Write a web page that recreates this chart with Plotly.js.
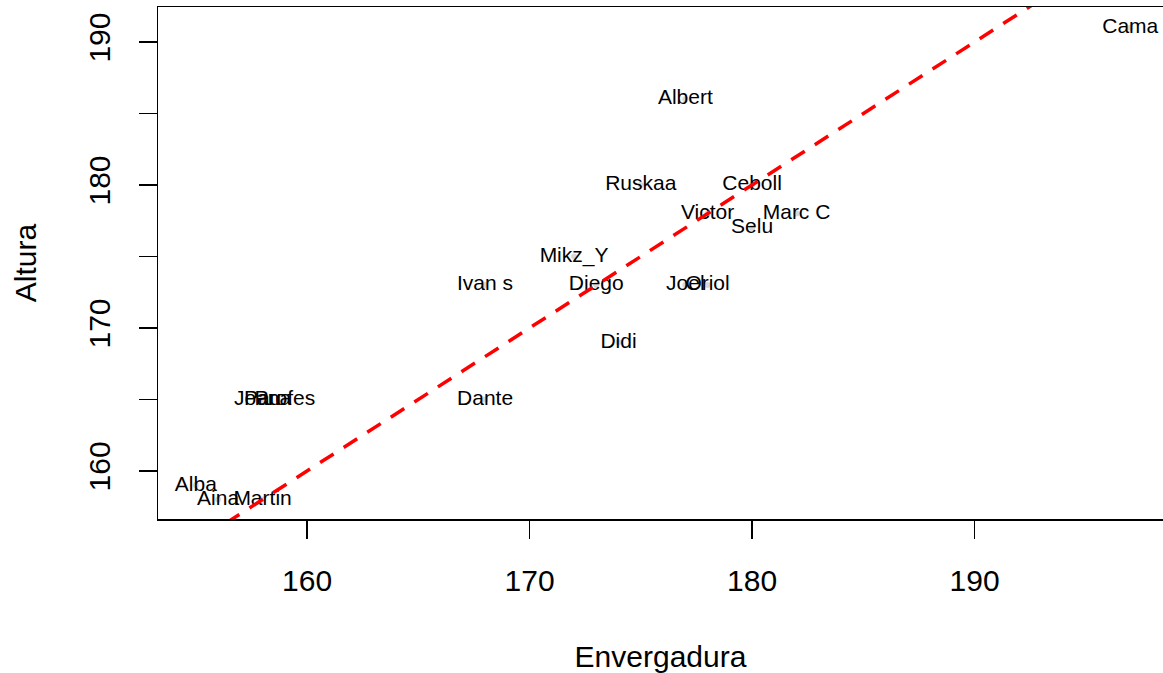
<!DOCTYPE html>
<html><head><meta charset="utf-8">
<script src="https://cdn.plot.ly/plotly-3.0.1.min.js"></script>
<style>html,body{margin:0;padding:0;background:#fff;}#chart{width:1163px;height:673px;}</style>
</head><body><div id="chart"></div>
<script>
const names = ["Alba","Aina","Martin","Joana","Pau","Profes","Dante","Ivan s","Mikz_Y","Diego","Didi","Ruskaa","Albert","Joel","Oriol","Ceboll","Victor","Selu","Marc C","Cama"];
const envergadura = [155,156,158,158,158,159,168,168,172,173,174,175,177,177,178,180,178,180,182,197];
const altura =      [159,158,158,165,165,165,165,173,175,173,169,180,186,173,173,180,178,177,178,191];
const lineX = [150, 200];
const lineY = [150, 200];
const xTicks = [160,170,180,190];
const yTicks = [160,165,170,175,180,185,190];
const yTickText = ["160","","170","","180","","190"];

const font = "Liberation Sans, Arial, Helvetica, sans-serif";
const traces = [
  {x: envergadura, y: altura, mode: "markers", type: "scatter",
   marker: {color: "#d9d9d9", size: 6}, hoverinfo: "skip", showlegend: false},
  {x: envergadura, y: altura, mode: "text", type: "scatter", text: names,
   textposition: "middle center", textfont: {family: font, size: 21, color: "#000"}, showlegend: false, cliponaxis: false},
  {x: lineX, y: lineY, mode: "lines", type: "scatter",
   line: {color: "#ff0000", width: 3.5, dash: "16px,12px"}, showlegend: false}
];
const layout = {
  width: 1163, height: 673,
  margin: {l: 158, r: 0, t: 7, b: 154},
  paper_bgcolor: "#fff", plot_bgcolor: "#fff",
  font: {family: font, color: "#000"},
  xaxis: {range: [153.3, 198.47], tickvals: xTicks, ticks: "outside", ticklen: 18, tickwidth: 1.5, tickcolor: "#000",
          showgrid: false, zeroline: false, showline: true, mirror: true, linecolor: "#000", linewidth: 1.5,
          tickfont: {size: 30}, ticklabelstandoff: 16,
          title: {text: "Envergadura", font: {size: 30}, standoff: 50}},
  yaxis: {range: [156.64, 192.45], tickvals: yTicks, ticktext: yTickText, ticks: "outside", ticklen: 18, tickwidth: 1.5, tickcolor: "#000",
          showgrid: false, zeroline: false, showline: true, mirror: true, linecolor: "#000", linewidth: 1.5,
          tickfont: {size: 30}, tickangle: -90, ticklabelstandoff: 17,
          title: {text: "Altura", font: {size: 30}, standoff: 37}}
};
Plotly.newPlot("chart", traces, layout, {displayModeBar: false, staticPlot: true});
</script></body></html>
